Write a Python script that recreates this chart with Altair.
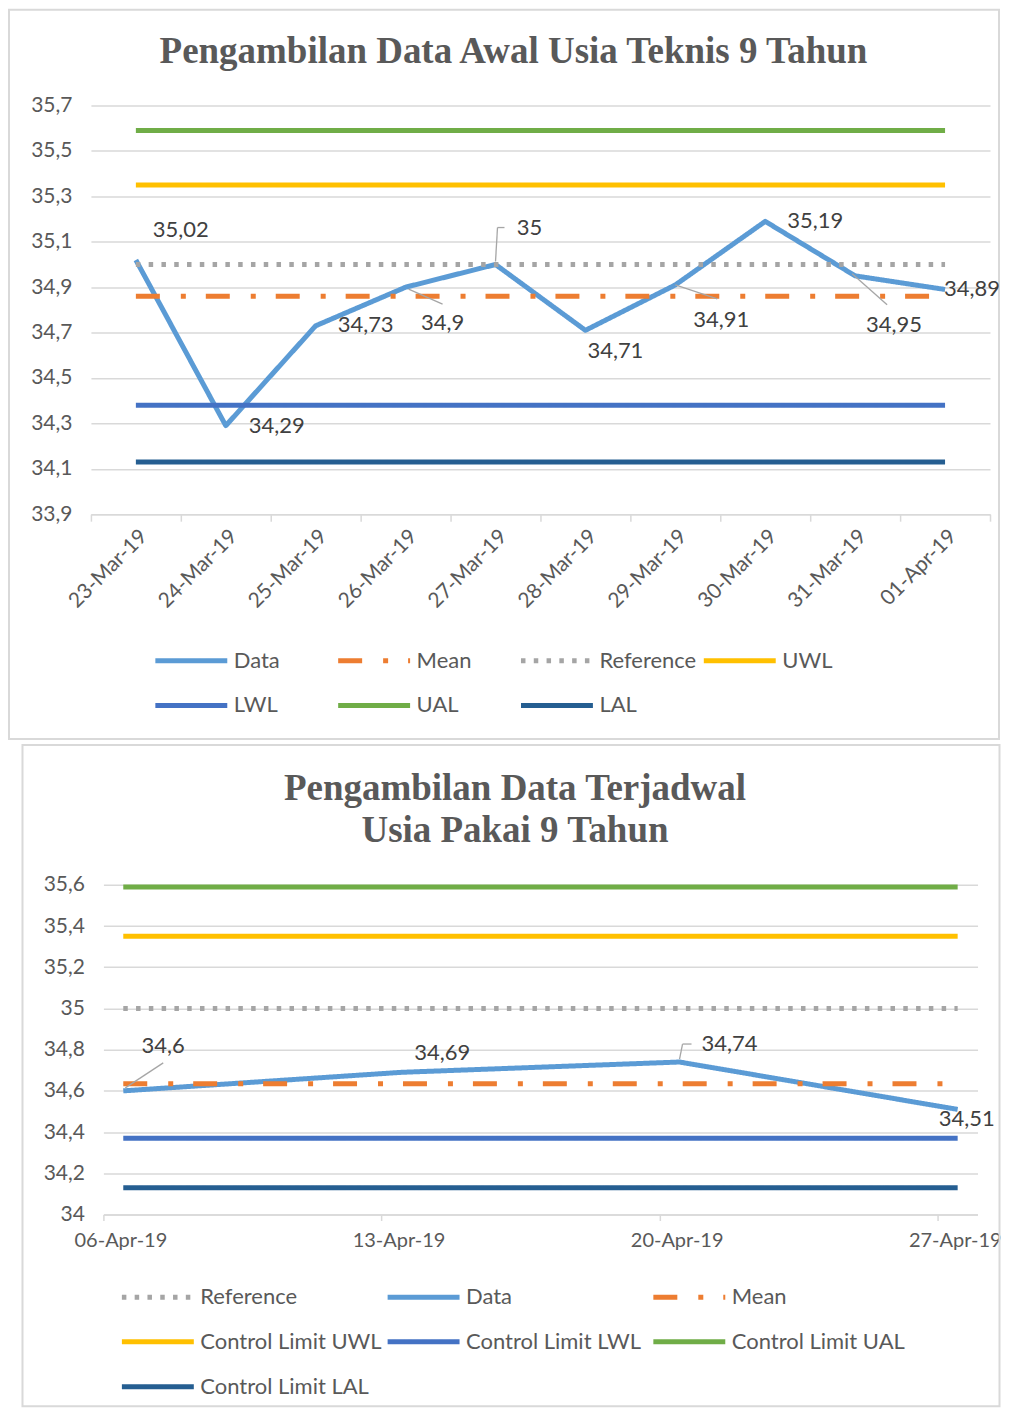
import altair as alt
import pandas as pd

FONT = "Lato"
TITLE_FONT = "Liberation Serif"
TXT = "#595959"
LBL = "#404040"
GRID = "#d9d9d9"

# ---------------- Chart 1 data ----------------
title_1 = "Pengambilan Data Awal Usia Teknis 9 Tahun"
dates_1 = ["23-Mar-19", "24-Mar-19", "25-Mar-19", "26-Mar-19", "27-Mar-19",
           "28-Mar-19", "29-Mar-19", "30-Mar-19", "31-Mar-19", "01-Apr-19"]
data_1 = [35.02, 34.29, 34.73, 34.90, 35.00, 34.71, 34.91, 35.19, 34.95, 34.89]
mean_1 = 34.86
reference_1 = 35.0
uwl_1 = 35.35
lwl_1 = 34.38
ual_1 = 35.59
lal_1 = 34.13
series_1 = ["Data", "Mean", "Reference", "UWL", "LWL", "UAL", "LAL"]
y_ticks_1 = [33.9, 34.1, 34.3, 34.5, 34.7, 34.9, 35.1, 35.3, 35.5, 35.7]

# ---------------- Chart 2 data ----------------
title_2 = ["Pengambilan Data Terjadwal", "Usia Pakai 9 Tahun"]
dates_2 = ["2019-04-06T12:00:00", "2019-04-13T12:00:00",
           "2019-04-20T12:00:00", "2019-04-27T12:00:00"]
data_2 = [34.60, 34.69, 34.74, 34.51]
mean_2 = 34.635
reference_2 = 35.0
uwl_2 = 35.35
lwl_2 = 34.37
ual_2 = 35.59
lal_2 = 34.13
series_2 = ["Reference", "Data", "Mean", "Control Limit UWL", "Control Limit LWL",
            "Control Limit UAL", "Control Limit LAL"]
y_ticks_2 = [34.0, 34.2, 34.4, 34.6, 34.8, 35.0, 35.2, 35.4, 35.6]
x_tick_days_2 = [6, 13, 20, 27]

# ---------------- styles ----------------
C_DATA, C_MEAN, C_REF = "#5B9BD5", "#ED7D31", "#A5A5A5"
C_UWL, C_LWL, C_UAL, C_LAL = "#FFC000", "#4472C4", "#70AD47", "#255E91"
D_SOLID, D_MEAN, D_DOT = [1, 0], [24, 21, 5, 20], [4.5, 8.3]

colors_1 = [C_DATA, C_MEAN, C_REF, C_UWL, C_LWL, C_UAL, C_LAL]
dashes_1 = [D_SOLID, D_MEAN, D_DOT, D_SOLID, D_SOLID, D_SOLID, D_SOLID]
colors_2 = [C_REF, C_DATA, C_MEAN, C_UWL, C_LWL, C_UAL, C_LAL]
dashes_2 = [D_DOT, D_SOLID, D_MEAN, D_SOLID, D_SOLID, D_SOLID, D_SOLID]

# label offsets (pixels) for each data point, and leader-line segments
label_off_1 = [(45, -30), (51, 0), (50, -1), (37, 36), (34, -37),
               (30, 21), (46, 35), (50, 0), (39, 49), (27, 0)]
leaders_1 = {3: [(3, 2, 37, 17)], 4: [(0, -3, 2, -37), (2, -37, 9, -37)],
             6: [(0, 0, 42, 14)], 8: [(-3, -2, 32, 29)]}
label_off_2 = [(40, -45), (41, -19), (50, -18), (9, 10)]
leaders_2 = {0: [(2, -3, 40, -28)], 2: [(0, -3, 3, -18), (3, -18, 12, -18)]}


def fmt(v):
    return f"{v:g}".replace(".", ",")


def long_df(dates, series, values):
    rows = []
    for s in series:
        for d, v in zip(dates, values[s]):
            rows.append({"date": d, "value": v, "series": s})
    return pd.DataFrame(rows)


def one_row():
    return alt.Chart(pd.DataFrame({"k": [0]}))


def frame(x0, x1, y0, y1):
    return one_row().mark_rect(
        fillOpacity=0, stroke=GRID, strokeWidth=2
    ).encode(x=alt.value(x0), x2=alt.value(x1), y=alt.value(y0), y2=alt.value(y1))


def title_mark(text, cx, cy):
    return one_row().mark_text(
        text=text, font=TITLE_FONT, fontSize=37, fontWeight="bold", color=TXT,
        align="center", baseline="middle", lineHeight=42
    ).encode(x=alt.value(cx), y=alt.value(cy))


def make_legend(x, y, cols, pad):
    return alt.Legend(orient="none", legendX=x, legendY=y, columns=cols, title=None,
                      direction="horizontal",
                      symbolType="M-3,0H3", symbolSize=576, symbolStrokeWidth=5,
                      labelFont=FONT, labelFontSize=22, labelColor=TXT, labelLimit=400,
                      gridAlign="all", columnPadding=pad, rowPadding=19, labelOffset=28)


def y_axis(ticks, expr):
    return alt.Axis(title=None, values=ticks, labelExpr=expr, labelFont=FONT,
                    labelFontSize=21, labelColor=TXT, domain=False, ticks=False,
                    gridColor=GRID, gridWidth=1.5, labelPadding=19)


# ================= Chart 1 =================
n1 = len(dates_1)
vals_1 = {"Data": data_1, "Mean": [mean_1] * n1, "Reference": [reference_1] * n1,
          "UWL": [uwl_1] * n1, "LWL": [lwl_1] * n1, "UAL": [ual_1] * n1,
          "LAL": [lal_1] * n1}
df1 = long_df(dates_1, series_1, vals_1)
lab1 = pd.DataFrame({"pt": list(range(n1)), "date": dates_1, "value": data_1,
                     "label": [fmt(v) for v in data_1]})

x1 = alt.X("date:O", sort=dates_1, bandPosition=0.5, title=None,
           scale=alt.Scale(type="band", paddingInner=0, paddingOuter=0),
           axis=alt.Axis(title=None, labelAngle=315, labelFont=FONT, labelFontSize=21,
                         labelColor=TXT, tickBand="extent", tickColor=GRID, tickSize=7,
                         tickWidth=1.5, domainColor=GRID, domainWidth=1.5, grid=False,
                         labelPadding=4, labelOverlap=False))
y1 = alt.Y("value:Q", title=None,
           scale=alt.Scale(domain=[33.9, 35.7], nice=False, zero=False),
           axis=y_axis(y_ticks_1, "replace(format(datum.value, '.1f'), '.', ',')"))
leg1 = make_legend(86, 541, 4, -3)

lines1 = alt.Chart(df1).mark_line(strokeWidth=5, strokeJoin="round").encode(
    x=x1, y=y1,
    color=alt.Color("series:N", sort=series_1,
                    scale=alt.Scale(domain=series_1, range=colors_1), legend=leg1),
    strokeDash=alt.StrokeDash("series:N", sort=series_1,
                              scale=alt.Scale(domain=series_1, range=dashes_1), legend=leg1),
)

layers1 = [frame(-82, 909, -96, 634), title_mark(title_1, 423, -54), lines1]
for i in range(n1):
    for (a, b, c, e) in leaders_1.get(i, []):
        layers1.append(alt.Chart(lab1).transform_filter(alt.datum.pt == i).mark_rule(
            color="#a6a6a6", strokeWidth=1.3, xOffset=a, yOffset=b, x2Offset=c, y2Offset=e
        ).encode(x=x1, x2=alt.X2("date", bandPosition=0.5), y=y1, y2=alt.Y2("value")))
for i in range(n1):
    dx, dy = label_off_1[i]
    layers1.append(alt.Chart(lab1).transform_filter(alt.datum.pt == i).mark_text(
        dx=dx, dy=dy, font=FONT, fontSize=22, color=LBL, align="center", baseline="middle"
    ).encode(x=x1, y=y1, text="label:N"))

chart1 = alt.layer(*layers1).properties(width=900, height=409)

# ================= Chart 2 =================
n2 = len(dates_2)
vals_2 = {"Reference": [reference_2] * n2, "Data": data_2, "Mean": [mean_2] * n2,
          "Control Limit UWL": [uwl_2] * n2, "Control Limit LWL": [lwl_2] * n2,
          "Control Limit UAL": [ual_2] * n2, "Control Limit LAL": [lal_2] * n2}
df2 = long_df(dates_2, series_2, vals_2)
lab2 = pd.DataFrame({"pt": list(range(n2)), "date": dates_2, "value": data_2,
                     "label": [fmt(v) for v in data_2]})

x2 = alt.X("date:T", title=None,
           scale=alt.Scale(domain=[alt.DateTime(year=2019, month=4, date=6),
                                   alt.DateTime(year=2019, month=4, date=28)]),
           axis=alt.Axis(title=None, values=[alt.DateTime(year=2019, month=4, date=d)
                                             for d in x_tick_days_2],
                         format="%d-%b-%y", labelAngle=0, labelFont=FONT, labelFontSize=20,
                         labelColor=TXT, tickColor=GRID, tickSize=6, tickWidth=1.5,
                         domainColor=GRID, domainWidth=1.5, grid=False, labelPadding=10,
                         labelFlush=False, labelOffset=17, labelOverlap=False))
y2 = alt.Y("value:Q", title=None,
           scale=alt.Scale(domain=[34.0, 35.6], nice=False, zero=False),
           axis=y_axis(y_ticks_2, "replace(format(datum.value, '.1~f'), '.', ',')"))
leg2 = make_legend(40, 398, 3, -5)

lines2 = alt.Chart(df2).mark_line(strokeWidth=5, strokeJoin="round").encode(
    x=x2, y=y2,
    color=alt.Color("series:N", sort=series_2,
                    scale=alt.Scale(domain=series_2, range=colors_2), legend=leg2),
    strokeDash=alt.StrokeDash("series:N", sort=series_2,
                              scale=alt.Scale(domain=series_2, range=dashes_2), legend=leg2),
)

layers2 = [frame(-81, 897, -140, 522), title_mark(title_2, 412, -96), lines2]
for i in range(n2):
    for (a, b, c, e) in leaders_2.get(i, []):
        layers2.append(alt.Chart(lab2).transform_filter(alt.datum.pt == i).mark_rule(
            color="#a6a6a6", strokeWidth=1.3, xOffset=a, yOffset=b, x2Offset=c, y2Offset=e
        ).encode(x=x2, x2=alt.X2("date"), y=y2, y2=alt.Y2("value")))
for i in range(n2):
    dx, dy = label_off_2[i]
    layers2.append(alt.Chart(lab2).transform_filter(alt.datum.pt == i).mark_text(
        dx=dx, dy=dy, font=FONT, fontSize=22, color=LBL, align="center", baseline="middle"
    ).encode(x=x2, y=y2, text="label:N"))

chart2 = alt.layer(*layers2).properties(width=875, height=330)

chart = alt.vconcat(chart1, chart2, spacing=371, center=True, bounds="flush").properties(
    padding=0
).configure_view(strokeWidth=0).resolve_scale(color="independent",
                                              strokeDash="independent",
                                              x="independent", y="independent")

chart.save("out.html", embed_options={"renderer": "svg", "actions": False})
